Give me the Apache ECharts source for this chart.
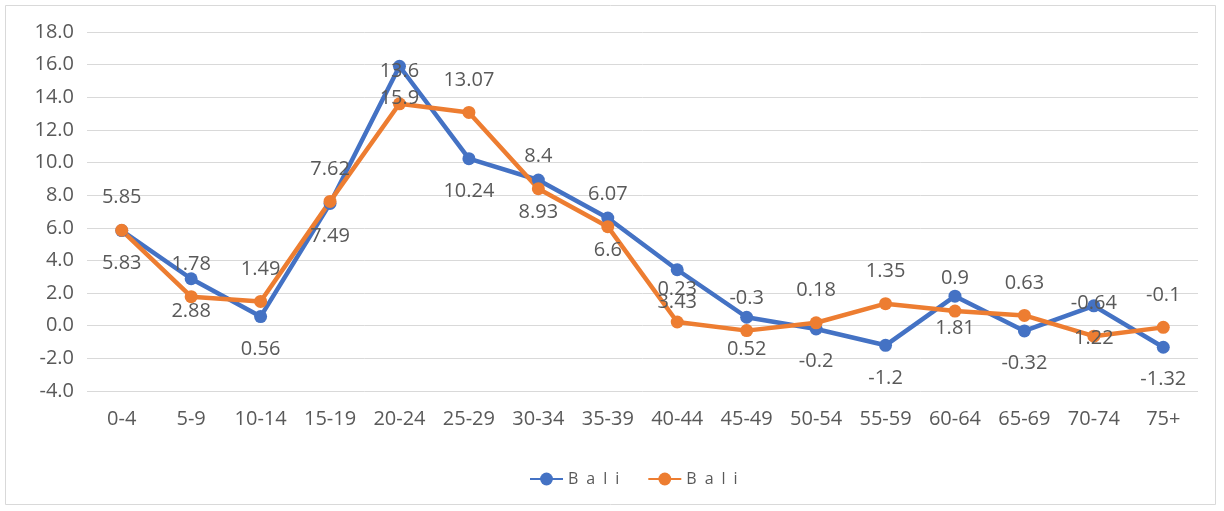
<!DOCTYPE html>
<html>
<head>
<meta charset="utf-8">
<script src="https://cdn.jsdelivr.net/npm/echarts@6/dist/echarts.min.js"></script>
<style>
  html, body { margin: 0; padding: 0; background: #fff; }
  #chart { width: 1224px; height: 511px; }
</style>
</head>
<body>
<div id="chart"></div>
<script>
// Age groups along the x axis
const ageGroups = ['0-4', '5-9', '10-14', '15-19', '20-24', '25-29', '30-34', '35-39',
  '40-44', '45-49', '50-54', '55-59', '60-64', '65-69', '70-74', '75+'];

// First Bali series (blue, labels under the points)
const baliBlue = [5.83, 2.88, 0.56, 7.49, 15.9, 10.24, 8.93, 6.6,
  3.43, 0.52, -0.2, -1.2, 1.81, -0.32, 1.22, -1.32];

// Second Bali series (orange, labels over the points)
const baliOrange = [5.85, 1.78, 1.49, 7.62, 13.6, 13.07, 8.4, 6.07,
  0.23, -0.3, 0.18, 1.35, 0.9, 0.63, -0.64, -0.1];

// Value axis range
const yMin = -4, yMax = 18, yStep = 2;

const seriesNames = ['Bali A', 'Bali B'];
// Legend caption, drawn with wide letter spacing
const legendText = 'B\u2002a\u2002l\u2002i';

const chart = echarts.init(document.getElementById('chart'), null, { renderer: 'canvas' });

const fontFamily = '"Open Sans", "Noto Sans", sans-serif';
const labelFont = { fontFamily: fontFamily, fontSize: 20, color: '#595959' };

function lineSeries(name, data, color, labelPos) {
  return {
    name: name,
    type: 'line',
    data: data,
    symbol: 'circle',
    symbolSize: 13,
    lineStyle: { color: color, width: 4.5 },
    itemStyle: { color: color },
    label: Object.assign({
      show: true,
      position: labelPos,
      distance: 16,
      formatter: p => String(p.value)
    }, labelFont),
    emphasis: { disabled: true }
  };
}

chart.setOption({
  animation: false,
  backgroundColor: '#fff',
  graphic: [{
    type: 'rect',
    shape: { x: 5.5, y: 5.5, width: 1210, height: 499 },
    style: { fill: 'none', stroke: '#d9d9d9', lineWidth: 1 },
    z: -1
  }],
  grid: { left: 87, right: 26, top: 32, bottom: 120, containLabel: false },
  legend: {
    top: 466,
    left: 524,
    itemWidth: 33,
    itemHeight: 16,
    itemGap: 28,
    data: seriesNames,
    formatter: () => legendText,
    textStyle: { fontFamily: fontFamily, fontSize: 16, color: '#595959' }
  },
  xAxis: {
    type: 'category',
    data: ageGroups,
    boundaryGap: true,
    axisLine: { show: false },
    axisTick: { show: false },
    axisLabel: Object.assign({ margin: 18, interval: 0 }, labelFont),
    splitLine: { show: false }
  },
  yAxis: {
    type: 'value',
    min: yMin,
    max: yMax,
    interval: yStep,
    axisLine: { show: false },
    axisTick: { show: false },
    axisLabel: Object.assign({ margin: 13, formatter: v => v.toFixed(1) }, labelFont),
    splitLine: { lineStyle: { color: '#d9d9d9', width: 1 } }
  },
  series: [
    lineSeries(seriesNames[0], baliBlue, '#4472C4', 'bottom'),
    lineSeries(seriesNames[1], baliOrange, '#ED7D31', 'top')
  ]
});
</script>
</body>
</html>
